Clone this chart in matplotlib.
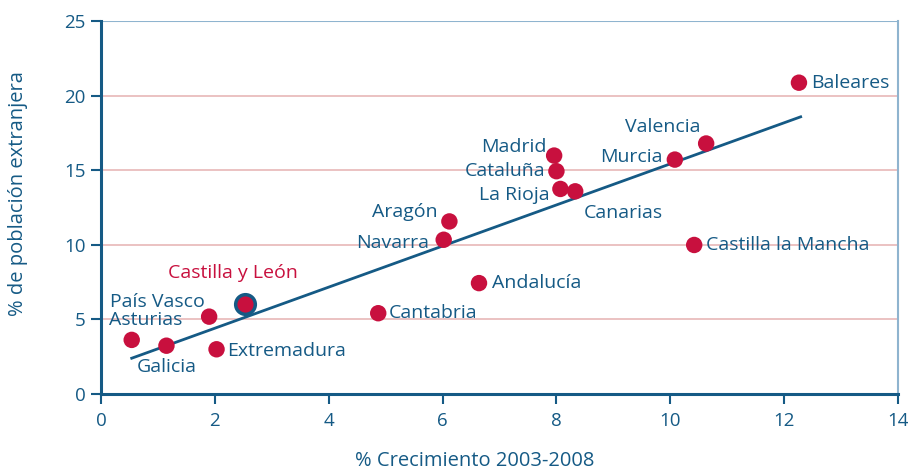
import matplotlib.pyplot as plt

# Datos
regiones = ["Asturias", "Galicia", "País Vasco", "Extremadura", "Castilla y León",
            "Cantabria", "Navarra", "Aragón", "Andalucía", "Madrid", "Cataluña",
            "La Rioja", "Canarias", "Murcia", "Valencia", "Castilla la Mancha", "Baleares"]
crecimiento = [0.54, 1.15, 1.90, 2.03, 2.53, 4.87, 6.02, 6.12, 6.64, 7.96, 8.00,
               8.07, 8.33, 10.08, 10.63, 10.42, 12.26]
extranjeros = [3.60, 3.21, 5.16, 2.97, 6.02, 5.39, 10.32, 11.55, 7.41, 15.97, 14.92,
               13.73, 13.57, 15.70, 16.78, 9.97, 20.86]

# Recta de tendencia (extremos)
tend_x = [0.54, 12.29]
tend_y = [2.37, 18.57]

# Posición de etiquetas (desplazamiento en píxeles, alineación)
etiquetas = {
    "Asturias": (-23, 20, "left"),
    "Galicia": (-30, -21, "left"),
    "País Vasco": (-4, 15, "right"),
    "Extremadura": (11, -2, "left"),
    "Castilla y León": (-77, 31, "left"),
    "Cantabria": (11, 0, "left"),
    "Navarra": (-15, -3, "right"),
    "Aragón": (-12, 9, "right"),
    "Andalucía": (13, 0, "left"),
    "Madrid": (-8, 9, "right"),
    "Cataluña": (-11, 0, "right"),
    "La Rioja": (-11, -6, "right"),
    "Canarias": (9, -22, "left"),
    "Murcia": (-12, 3, "right"),
    "Valencia": (-6, 16, "right"),
    "Castilla la Mancha": (12, 0, "left"),
    "Baleares": (12, 0, "left"),
}

AZUL = "#155a85"
ROJO = "#c8103e"
plt.rcParams["font.family"] = ["Open Sans", "DejaVu Sans"]

fig = plt.figure(figsize=(9.08, 4.73), dpi=100)
ax = fig.add_axes([0.1112, 0.168, 0.8778, 0.7876])

for y in [5, 10, 15, 20]:
    ax.axhline(y, color="#e8b8b8", linewidth=1.2, zorder=0)
ax.axhline(25, color="#8fb4cf", linewidth=1.5, zorder=0)

ax.plot(tend_x, tend_y, color=AZUL, linewidth=2, zorder=2)

for r, x, y in zip(regiones, crecimiento, extranjeros):
    if r == "Castilla y León":
        ax.scatter(x, y, s=200, color=ROJO, edgecolor=AZUL, linewidth=2.5, zorder=3)
    else:
        ax.scatter(x, y, s=140, color=ROJO, edgecolor="none", zorder=3)
    dx, dy, ha = etiquetas[r]
    ax.annotate(r, (x, y), xytext=(dx, dy), textcoords="offset pixels",
                ha=ha, va="center", fontsize=14,
                color=ROJO if r == "Castilla y León" else AZUL, zorder=4)

ax.set_xlim(0, 14)
ax.set_ylim(0, 25)
ax.set_xticks(range(0, 15, 2))
ax.set_yticks(range(0, 26, 5))

for s in ["left", "bottom"]:
    ax.spines[s].set_color(AZUL)
    ax.spines[s].set_linewidth(2.2)
ax.spines["top"].set_visible(False)
ax.spines["right"].set_color("#8fb4cf")
ax.spines["right"].set_linewidth(1.5)

ax.tick_params(axis="both", colors=AZUL, labelsize=13.5, length=7, width=1.5,
               labelcolor=AZUL)
ax.tick_params(axis="x", pad=6)
ax.tick_params(axis="y", pad=4)

ax.set_xlabel("% Crecimiento 2003-2008", color=AZUL, fontsize=14.5)
ax.set_ylabel("% de población extranjera", color=AZUL, fontsize=14.5)
ax.xaxis.set_label_coords(0.469, -0.155)
ax.yaxis.set_label_coords(-0.092, 0.5375)

fig.savefig("out.png", dpi=100)
plt.close("all")
